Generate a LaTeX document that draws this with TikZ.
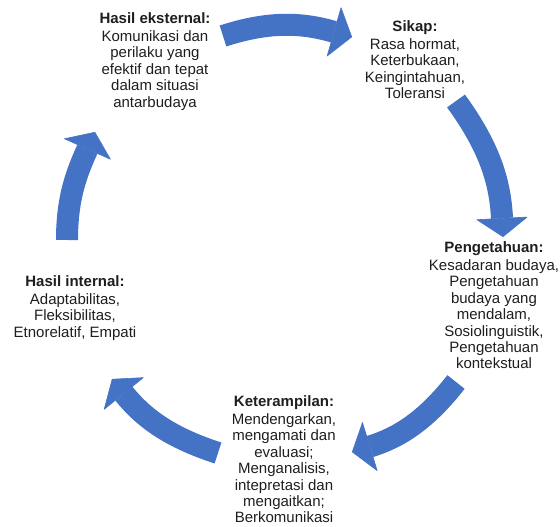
\documentclass[tikz,border=0pt]{standalone}
\usepackage{fontspec}
\setmainfont{Liberation Sans}
\usetikzlibrary{arrows.meta}
\definecolor{biru}{HTML}{4472C4}
\definecolor{gelap}{HTML}{1E1E1E}

\begin{document}
\begin{tikzpicture}[x=1pt, y=1pt,
        panah/.style={biru, line width=22pt, preaction={draw, -, shorten >=12pt},
            -{Triangle[width=52pt, length=19pt, line width=0.6pt, round]}},
        teks/.style={anchor=north, align=center, inner sep=0pt, text=gelap, font=\fontsize{15}{16.4}\selectfont}]
                \useasboundingbox (0,0) rectangle (560,527);

                \node[teks] (eks) at (155,515) {\textbf{Hasil eksternal:}\\[2pt] Komunikasi dan\\ perilaku yang\\ efektif dan tepat\\ dalam situasi\\ antarbudaya};
                \node[teks] (sik) at (415,507) {\textbf{Sikap:}\\[2pt] Rasa hormat,\\ Keterbukaan,\\ Keingintahuan,\\ Toleransi};
                \node[teks] (pen) at (494,286) {\textbf{Pengetahuan:}\\[2pt] Kesadaran budaya,\\ Pengetahuan\\ budaya yang\\ mendalam,\\ Sosiolinguistik,\\ Pengetahuan\\ kontekstual};
                \node[teks] (ket) at (284,132) {\textbf{Keterampilan:}\\[2pt] Mendengarkan,\\ mengamati dan\\ evaluasi;\\ Menganalisis,\\ intepretasi dan\\ mengaitkan;\\ Berkomunikasi};
                \node[teks] (int) at (75,252) {\textbf{Hasil internal:}\\[2pt] Adaptabilitas,\\ Fleksibilitas,\\ Etnorelatif, Empati};

                % ujung panah
                \coordinate (e1) at (223,491);
                \coordinate (s1) at (352,490);
                \coordinate (s2) at (456,426);
                \coordinate (p1) at (503,290);
                \coordinate (p2) at (456,145);
                \coordinate (k1) at (352,75);
                \coordinate (k2) at (218,74);
                \coordinate (i1) at (112,148);
                \coordinate (i2) at (67,287);
                \coordinate (e2) at (95,395);

                % siklus searah jarum jam
                \draw[panah] (e1) to[out=18, in=164] (s1);
                \draw[panah] (s2) to[out=-54, in=93] (p1);
                \draw[panah] (p2) to[out=232, in=17] (k1);
                \draw[panah] (k2) to[out=162, in=-51] (i1);
                \draw[panah] (i2) to[out=90, in=246] (e2);
            \end{tikzpicture}
\end{document}
